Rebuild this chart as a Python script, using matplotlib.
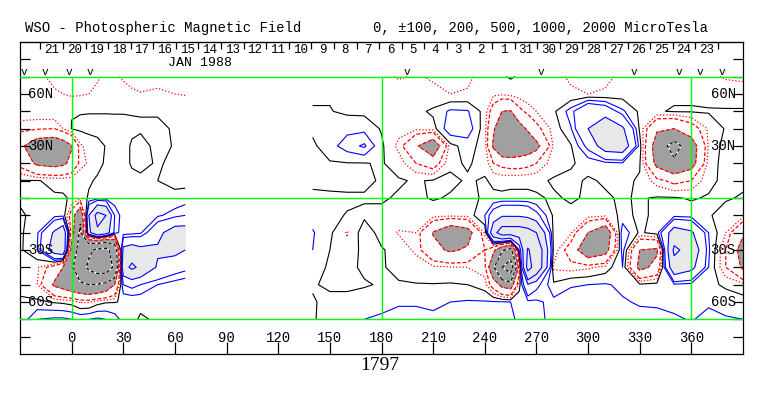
import numpy as np
import matplotlib
matplotlib.use("Agg")
import matplotlib.pyplot as plt

# ---------------- data ----------------
lat_rows = [70, 60, 50, 40, 30, 20, 10, 0, -10, -20, -30, -40, -50, -60, -70]

left_lons = [-30, -20, -10, -5, 0, 5, 10, 15, 20, 25, 30, 35, 40, 50, 60, 66]
left_field = [
    [-30, -60, -140, -150, -160, -155, -140, -110, -80, -90, -110, -130, -140, -130, -140, -140],
    [-30, -40, -80, -100, -115, -110, -100, -80, -60, -65, -70, -85, -95, -85, -100, -105],
    [-40, -30, -10, -5, -5, -5, -5, -5, -5, -5, -5, -5, -5, -10, -30, -40],
    [-150, -180, -200, -100, 5, 20, 30, 30, 30, 25, 25, 15, 10, 20, -10, -30],
    [-420, -750, -800, -700, -520, -120, -60, -30, 5, 20, 30, -10, -25, 20, -5, -30],
    [-260, -560, -620, -560, -420, -150, -80, -20, 10, 20, 30, -10, -25, 10, -20, -30],
    [5, 5, -20, -25, -20, -15, -10, 10, 20, 25, 30, 25, 20, 0, -20, -30],
    [10, 10, 10, 10, -10, -40, 10, 40, 40, 20, 10, 10, 10, 10, 20, 40],
    [-10, 20, 60, 70, -300, -900, 500, 1200, 1000, 200, 30, 10, 10, 80, 150, 200],
    [-20, 80, 550, 800, -300, -1100, 400, 900, 700, 150, 40, 50, 80, 400, 700, 700],
    [-20, 100, 700, 850, -700, -1200, -1800, -2200, -2300, -1500, 600, 700, 600, 550, 600, 500],
    [-20, -80, -300, -500, -900, -1500, -2200, -2600, -2600, -1800, 800, 1100, 900, 450, 300, 250],
    [-20, -100, -550, -650, -800, -900, -1000, -950, -800, -500, 200, 250, 200, 100, 40, 10],
    [10, 20, -10, -20, -40, -110, -110, -40, -10, -5, 10, 10, 20, 20, 20, 20],
    [20, 200, 220, 220, 200, 180, 200, 220, 200, 150, 60, 20, -10, 10, 40, 60],
]

right_lons = [140, 150, 160, 170, 180, 190, 200, 210, 220, 230, 240, 245, 250, 255,
              260, 265, 270, 280, 290, 300, 310, 320, 330, 340, 350, 360, 370, 380, 390]
right_field = [
    [-40, -40, -50, -60, -70, -110, -90, -110, -140, -120, -60, -30, -10, 10, -10, -30, -50,
     -80, -110, -140, -120, -80, -50, -30, -20, -30, -80, -110, -120],
    [-20, -10, -10, -20, -30, -50, -60, -80, -100, -90, -70, -75, -80, -60, -50, -40, -40,
     -60, -90, -100, -90, -50, -20, -20, -20, -20, -40, -50, -50],
    [10, 5, -20, -25, -30, -40, -30, 20, 120, 110, -40, -300, -500, -520, -250, -150, -100,
     -20, 150, 450, 350, 120, -20, -10, 10, 10, 10, 10, 10],
    [20, 40, 70, 70, -10, -60, -80, -40, 180, 170, -60, -450, -800, -800, -650, -450, -250,
     -60, 90, 500, 800, 550, -20, -450, -500, -300, -80, 10, 10],
    [-20, 60, 150, 220, 20, -130, -450, -800, -30, 40, -40, -550, -900, -950, -850, -750, -600,
     -80, -10, 250, 700, 750, 50, -700, -1200, -700, -80, 40, 20],
    [-20, -10, -5, -5, 10, -50, -200, -300, -20, 10, -30, -200, -250, -280, -280, -250, -200,
     -40, -10, 30, 60, 80, 10, -600, -900, -650, -50, 40, 30],
    [-20, -30, -30, -20, 10, 10, -10, 10, 20, -10, 10, -20, -30, -20, -20, -20, -20,
     10, 20, -10, 10, 20, -10, -150, -250, -200, -30, 30, 20],
    [20, 20, 15, 10, 10, -10, -20, 10, -10, -20, 10, 20, 20, 20, 20, 20, 10,
     -10, 10, -10, -10, 10, -10, 10, 10, -10, 10, 10, -10],
    [60, 20, -5, -20, -20, -30, -40, -60, -70, -60, 100, 300, 450, 450, 450, 400, 250,
     -20, -20, -50, -70, 30, -20, 20, 60, 50, 10, -40, -60],
    [110, 20, -110, 60, -40, -110, -100, -520, -800, -650, -80, 800, 1300, 1300, 1300, 1200, 1000,
     -40, -80, -500, -800, 180, -20, 50, 700, 550, 100, -100, -450],
    [100, 0, -60, 30, 10, -40, -120, -400, -550, -450, -200, -400, -900, -1200, 200, 2100, 1500,
     -30, -300, -800, -650, 150, -500, -550, 1100, 800, 120, -200, -650],
    [30, -10, -30, 20, 10, -30, -50, -80, -90, -100, -150, -900, -2000, -2600, -300, 2400, 1500,
     -120, -150, -120, -60, 100, -600, -400, 800, 600, 100, -200, -550],
    [10, -20, -20, -10, 10, 10, 5, 5, 10, 0, -60, -300, -600, -700, -50, 450, 250,
     20, 90, 100, 110, 80, 20, 40, 80, 60, 30, -20, -60],
    [-10, 30, 30, 50, 80, 90, 90, 80, 100, 110, 110, 110, 110, 100, 80, 70, 80,
     130, 150, 150, 140, 110, 90, 90, 80, 70, 90, 60, 40],
    [-10, 40, 90, 100, 110, 130, 130, 120, 130, 130, 120, 120, 120, 110, 90, 60, 70,
     130, 150, 150, 150, 140, 130, 120, 110, 95, 120, 110, 100],
]

pos_levels = [100, 200, 500, 1000, 2000]
neg_dot_levels = [-100]
neg_dash_levels = [-500, -200]
neg_strong_levels = [-2000, -1000]
shade_level = 500

lon_ticks = [0, 30, 60, 90, 120, 150, 180, 210, 240, 270, 300, 330, 360]
green_lons = [0, 180, 360]
green_lats = [70, 0, -70]
lat_tick_vals = [-80, -70, -60, -50, -40, -30, -20, -10, 0, 10, 20, 30, 40, 50, 60, 70, 80]
lat_label_vals = [60, 30, -30, -60]
lat_label_text = ["60N", "30N", "30S", "60S"]
day_labels = ["21", "20", "19", "18", "17", "16", "15", "14", "13", "12", "11", "10",
              "9", "8", "7", "6", "5", "4", "3", "2", "1",
              "31", "30", "29", "28", "27", "26", "25", "24", "23"]
day_first_lon = -11.6
day_step = 13.12
obs_marks = [-27.9, -15.7, -1.7, 10.5, 194.5, 272.9, 326.9, 353.0, 364.7, 377.5]
title_left = "WSO - Photospheric Magnetic Field"
title_right = "0, \u00b1100, 200, 500, 1000, 2000 MicroTesla"
month_text = "JAN 1988"
rotation_text = "1797"

# ---------------- drawing ----------------
W, H = 763, 396
MONO = ["Liberation Mono", "DejaVu Sans Mono"]
fig = plt.figure(figsize=(W / 100, H / 100), dpi=100)
ax = fig.add_axes([20 / W, (H - 354) / H, 723 / W, 312 / H])
ax.set_xlim(-30, 390)
ax.set_ylim(-90, 90)

GREEN = "#00ff00"
RED = "#ff0000"
BLUE = "#0000ff"


def draw_block(lons, field):
    x = np.array(lons, float)
    y = np.array(lat_rows, float)[::-1]
    z = np.array(field, float)[::-1]
    ax.contourf(x, y, z, levels=[-1e5, -shade_level], colors=["#a0a0a0"], zorder=1)
    ax.contourf(x, y, z, levels=[shade_level, 1e5], colors=["#e8e8e8"], zorder=1)
    ax.contour(x, y, z, levels=pos_levels, colors=BLUE, linewidths=0.8, zorder=3)
    ax.contour(x, y, z, levels=[0], colors="black", linewidths=0.8, zorder=3)
    ax.contour(x, y, z, levels=neg_dot_levels, colors=RED, linewidths=0.9,
               linestyles=[(0, (1, 1.6))], zorder=3)
    ax.contour(x, y, z, levels=neg_dash_levels, colors=RED, linewidths=0.9,
               linestyles=[(0, (3, 1.6))], zorder=3)
    ax.contour(x, y, z, levels=neg_strong_levels, colors="white", linewidths=1.0, zorder=3)
    ax.contour(x, y, z, levels=neg_strong_levels, colors="black", linewidths=0.8,
               linestyles=[(0, (3, 2))], zorder=4)


draw_block(left_lons, left_field)
draw_block(right_lons, right_field)

# green reference lines
for la in green_lats:
    ax.axhline(la, color=GREEN, lw=1.0, zorder=5)
for lo in green_lons:
    ax.plot([lo, lo], [green_lats[-1], green_lats[0]], color=GREEN, lw=1.0, zorder=5)

# frame and ticks
for s in ax.spines.values():
    s.set_linewidth(0.9)
    s.set_color("black")
ax.set_xticks(lon_ticks)
ax.set_xticklabels([])
ax.tick_params(axis="x", direction="in", length=9, width=0.9, bottom=True, top=False)
ax.set_yticks(lat_tick_vals)
ax.set_yticklabels([])
ax.tick_params(axis="y", direction="in", length=7, width=0.9, left=True, right=True)

seps = [day_first_lon - day_step / 2 + k * day_step for k in range(len(day_labels) + 1)]
sec = ax.secondary_xaxis("top")
sec.set_xticks(seps)
sec.set_xticklabels([])
sec.tick_params(direction="in", length=5, width=0.9)

for lo in lon_ticks:
    ax.text(lo, -80.8, str(lo), ha="center", va="center", fontsize=10, family=MONO, zorder=6)

for k, lab in enumerate(day_labels):
    ax.text(day_first_lon + k * day_step, 85.6, lab, ha="center", va="center",
            fontsize=9, family=MONO, zorder=6)

ax.text(74.3, 77.8, month_text, ha="center", va="center", fontsize=9.5, family=MONO)

for lo in obs_marks:
    ax.text(lo, 72.8, "v", ha="center", va="center", fontsize=8, family=MONO, zorder=6)

for la, t in zip(lat_label_vals, lat_label_text):
    ax.text(-25.3, la, t, ha="left", va="center", fontsize=10, family=MONO, zorder=6)
    ax.text(385.8, la, t, ha="right", va="center", fontsize=10, family=MONO, zorder=6)

fig.text(25 / W, 1 - 28 / H, title_left, ha="left", va="center", fontsize=10, family=MONO)
fig.text(373 / W, 1 - 28 / H, title_right, ha="left", va="center", fontsize=10, family=MONO)
fig.text(380 / W, 1 - 366 / H, rotation_text, ha="center", va="center", fontsize=14,
         family=["Liberation Serif", "DejaVu Serif"])

fig.savefig("out.png", dpi=100, facecolor="white")
